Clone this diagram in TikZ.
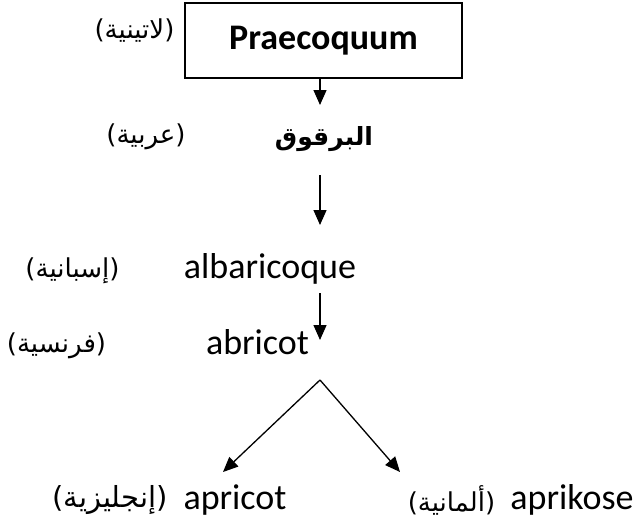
\documentclass[tikz,border=0pt]{standalone}
\usepackage{fontspec}
\setmainfont{Carlito}
\newfontfamily\arabicfont[Script=Arabic]{DejaVu Sans}
\TeXXeTstate=1
\usetikzlibrary{arrows.meta}
\tikzset{
  latword/.style={font=\fontsize{36}{40}\selectfont, inner sep=0pt, anchor=base},
  arlabel/.style={font=\arabicfont\fontsize{26}{30}\selectfont, inner sep=0pt},
  arword/.style={font=\arabicfont\bfseries\fontsize{25}{30}\selectfont, inner sep=0pt},
  topbox/.style={draw, line width=1.3pt, minimum width=277pt, minimum height=75pt,
    font=\bfseries\fontsize{36}{40}\selectfont, inner sep=0pt},
  arr/.style={line width=1.3pt, -{Triangle[width=13pt,length=15pt]}}
}
\begin{document}
\begin{tikzpicture}[x=1pt,y=-1pt]
\useasboundingbox (0,0) rectangle (642,525);
\node[topbox] (box) at (323.5,40.5) {Praecoquum};
\node[arlabel] (lat) at (134.5,31) {\beginR(لاتينية)\endR};
\node[arword] (arab) at (324,139) {\beginR البرقوق\endR};
\node[arlabel] (arabl) at (146,137) {\beginR(عربية)\endR};
\node[latword] (alb) at (270,278) {albaricoque};
\node[arlabel] (esp) at (72.5,271) {\beginR(إسبانية)\endR};
\node[latword] (abr) at (257.5,354) {abricot};
\node[arlabel] (fra) at (56.5,346) {\beginR(فرنسية)\endR};
\node[latword] (apr) at (235,509) {apricot};
\node[arlabel, font=\arabicfont\fontsize{29}{34}\selectfont] (eng) at (110,500) {\beginR(إنجليزية)\endR};
\node[latword] (aprk) at (572,509) {aprikose};
\node[arlabel] (ger) at (451.5,500) {\beginR(ألمانية)\endR};
\coordinate (a1s) at (320,78);
\coordinate (a1e) at (320,105);
\coordinate (a2s) at (320,175);
\coordinate (a2e) at (320,225);
\coordinate (a3s) at (320,293);
\coordinate (a3e) at (320,340);
\coordinate (apex) at (320,380);
\coordinate (tl) at (223,472);
\coordinate (tr) at (400,472);
\draw[arr] (a1s) -- (a1e);
\draw[arr] (a2s) -- (a2e);
\draw[arr] (a3s) -- (a3e);
\draw[arr] (apex) -- (tl);
\draw[arr] (apex) -- (tr);
\end{tikzpicture}
\end{document}
